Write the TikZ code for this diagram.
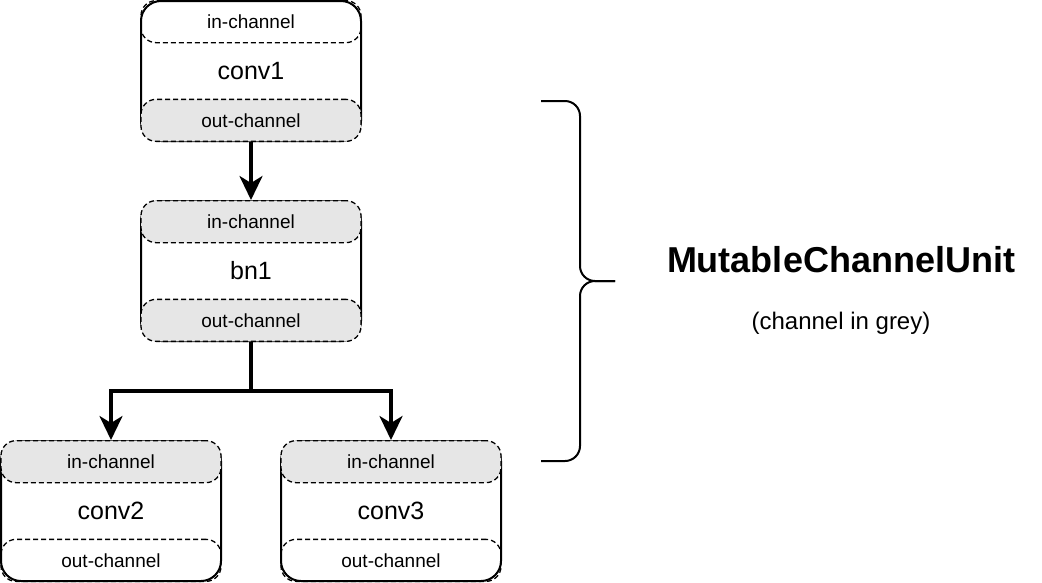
\documentclass[tikz,border=0pt]{standalone}
\usepackage{fontspec}
\setmainfont{Liberation Sans}
\usetikzlibrary{arrows.meta,calc}
\definecolor{chgrey}{HTML}{E6E6E6}
\tikzset{
  x=1pt, y=-1pt,
  unitbox/.style={draw=black, line width=2pt, rounded corners=20pt, fill=white,
    minimum width=220pt, minimum height=140pt, inner sep=0pt},
  pill/.style={draw=black, line width=1.3pt, dash pattern=on 5pt off 3pt, rounded corners=15pt,
    minimum width=220pt, minimum height=42pt, inner sep=0pt, font=\fontsize{19}{22}\selectfont},
  greypill/.style={pill, fill=chgrey},
  layername/.style={font=\fontsize{25}{30}\selectfont, inner sep=0pt},
  flow/.style={line width=3.5pt, -{Stealth[length=24pt,width=23pt,inset=7pt]}},
  bracepath/.style={line width=2pt, rounded corners=15pt},
}
\begin{document}
\begin{tikzpicture}
\useasboundingbox (0,0) rectangle (1042,582);
% boxes
\node[unitbox] (conv1) at (251,71) {};
\node[unitbox] (bn1) at (251,271) {};
\node[unitbox] (conv2) at (111,511) {};
\node[unitbox] (conv3) at (391,511) {};
% pills
\node[pill, anchor=north] (c1in) at (conv1.north) {in-channel};
\node[greypill, anchor=south] (c1out) at (conv1.south) {out-channel};
\node[greypill, anchor=north] (b1in) at (bn1.north) {in-channel};
\node[greypill, anchor=south] (b1out) at (bn1.south) {out-channel};
\node[greypill, anchor=north] (c2in) at (conv2.north) {in-channel};
\node[pill, anchor=south] (c2out) at (conv2.south) {out-channel};
\node[greypill, anchor=north] (c3in) at (conv3.north) {in-channel};
\node[pill, anchor=south] (c3out) at (conv3.south) {out-channel};
% names
\node[layername] (n1) at (conv1.center) {conv1};
\node[layername] (n2) at (bn1.center) {bn1};
\node[layername] (n3) at (conv2.center) {conv2};
\node[layername] (n4) at (conv3.center) {conv3};
% connectors
\draw[flow] (conv1.south) -- (bn1.north);
\coordinate (split) at (251,391);
\draw[flow] (bn1.south) -- (split) -| (conv2.north);
\draw[flow] (split) -| (conv3.north);
% brace
\coordinate (btop) at (541,101);
\coordinate (bmid) at (580,281);
\coordinate (btip) at (615,281);
\coordinate (bbot) at (541,461);
\draw[bracepath] (btop) -| (bmid) -- (btip);
\draw[bracepath] (btip) -- (bmid) |- (bbot);
% title
\node[font=\bfseries\fontsize{36}{40}\selectfont, inner sep=0pt] (title) at (841,260) {MutableChannelUnit};
\node[font=\fontsize{24}{28}\selectfont, inner sep=0pt] (sub) at (841,323) {(channel in grey)};
\end{tikzpicture}
\end{document}
